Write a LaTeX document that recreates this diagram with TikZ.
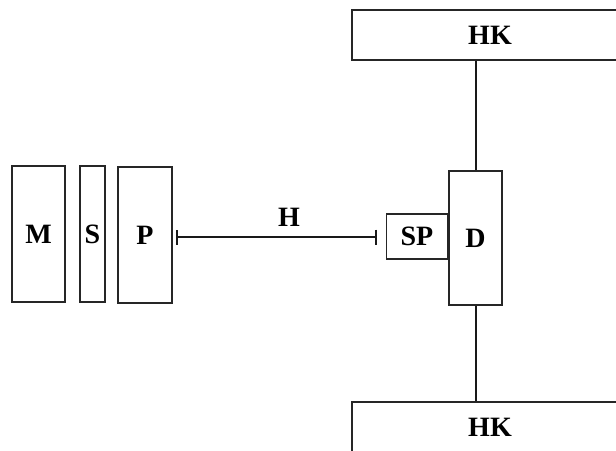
\documentclass[tikz,border=0pt]{standalone}
\usepackage{fontspec}
\setmainfont{Liberation Serif}
\usetikzlibrary{arrows.meta}
\begin{document}
\begin{tikzpicture}[x=1pt,y=-1pt,
  lbl/.style={font=\fontsize{28}{28}\selectfont\bfseries},
  box/.style={lbl,draw=black!85,line width=1.5pt,inner sep=0pt},
  link/.style={draw=black!90,line width=2pt},
  dim/.style={link,{Bar[width=15pt,line width=2pt]}-{Bar[width=15pt,line width=2pt]}}]
\useasboundingbox (0,0) rectangle (616,450);
\begin{scope}
\clip (0,0) rectangle (616,450);
% left stack
\node[box,minimum width=53pt,minimum height=136pt] (M) at (38.5,234) {M};
\node[box,minimum width=25pt,minimum height=136pt] (S) at (92.5,234) {S};
\node[box,minimum width=54pt,minimum height=136pt] (P) at (145,235) {P};
% right assembly
\node[box,minimum width=53pt,minimum height=134pt] (D) at (475.5,238) {D};
\node[box,minimum width=61pt,minimum height=45pt,anchor=east] (SP) at (D.west |- 0,236.5) {SP};
\node[box,minimum width=276pt,minimum height=50pt] (HKt) at (490,35) {HK};
\node[box,minimum width=276pt,minimum height=50pt] (HKb) at (490,427) {HK};
% connectors
\draw[link] (HKt.south -| D.north) -- (D.north);
\draw[link] (D.south) -- (HKb.north -| D.south);
\coordinate (hl) at ([xshift=3pt]P.east |- 0,237);
\coordinate (hr) at ([xshift=-9pt]SP.west |- 0,237);
\draw[dim] (hl) -- (hr);
\node[lbl] (H) at (289,217) {H};
\end{scope}
\end{tikzpicture}
\end{document}
